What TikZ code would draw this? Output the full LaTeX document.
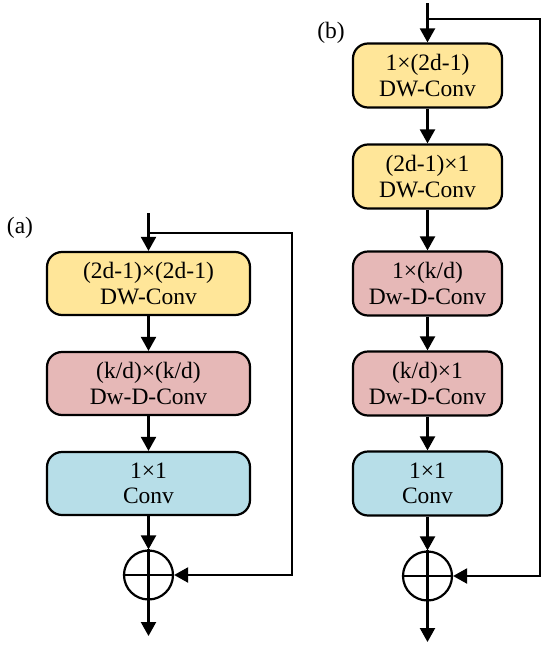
\documentclass[tikz,border=0pt]{standalone}
\usepackage{fontspec}
\setmainfont{Liberation Serif}
\usetikzlibrary{arrows.meta,calc}
\definecolor{cyel}{HTML}{FFE699}
\definecolor{cpink}{HTML}{E6B8B7}
\definecolor{cblue}{HTML}{B7DEE8}
\begin{document}
\begin{tikzpicture}[x=1pt,y=-1pt,
  blk/.style={draw=black, line width=2.2pt, rounded corners=15pt, align=center, inner sep=0pt,
    font=\fontsize{23.5pt}{25.5pt}\selectfont},
  wa/.style={blk, minimum width=203pt, minimum height=63pt},
  wb/.style={blk, minimum width=149pt, minimum height=64pt},
  sumc/.style={circle, draw=black, line width=2.2pt, minimum size=49pt, inner sep=0pt},
  ln/.style={line width=2.2pt},
  arr/.style={line width=2.2pt, -{Triangle[width=15pt,length=14pt]}},
  lab/.style={font=\fontsize{23.5pt}{25.5pt}\selectfont, inner sep=0pt}]
\useasboundingbox (0,0) rectangle (550,651);
% panel (a)
\node[lab] (la) at (20,228) {(a)};
\coordinate (ain) at (148.5,213);
\coordinate (abr) at (148.5,233);
\coordinate (ar) at (292,233);
\node[wa, fill=cyel] (a1) at (148.5,283.5) {(2d-1)×(2d-1)\\DW-Conv};
\node[wa, fill=cpink] (a2) at (148.5,383.5) {(k/d)×(k/d)\\Dw-D-Conv};
\node[wa, fill=cblue] (a3) at (148.5,483.5) {1×1\\Conv};
\node[sumc] (as) at (148.5,575) {};
\coordinate (aout) at (148.5,636);
\draw[arr] (ain) -- (a1.north);
\draw[arr] (a1.south) -- (a2.north);
\draw[arr] (a2.south) -- (a3.north);
\draw[arr] (a3.south) -- (as.north);
\draw[ln] (as.north) -- (as.south);
\draw[ln] (as.west) -- (as.east);
\draw[arr] (as.south) -- (aout);
\draw[arr] (abr) -- (ar) |- (as.east);
% panel (b)
\node[lab] (lb) at (331,33) {(b)};
\coordinate (bin) at (427.5,3);
\coordinate (bbr) at (427.5,19);
\coordinate (br) at (540,19);
\node[wb, fill=cyel] (b1) at (427.5,75.5) {1×(2d-1)\\DW-Conv};
\node[wb, fill=cyel] (b2) at (427.5,176.5) {(2d-1)×1\\DW-Conv};
\node[wb, fill=cpink] (b3) at (427.5,283.5) {1×(k/d)\\Dw-D-Conv};
\node[wb, fill=cpink] (b4) at (427.5,383.5) {(k/d)×1\\Dw-D-Conv};
\node[wb, fill=cblue] (b5) at (427.5,483.5) {1×1\\Conv};
\node[sumc] (bs) at (427.5,576) {};
\coordinate (bout) at (427.5,642);
\draw[arr] (bin) -- (b1.north);
\draw[arr] (b1.south) -- (b2.north);
\draw[arr] (b2.south) -- (b3.north);
\draw[arr] (b3.south) -- (b4.north);
\draw[arr] (b4.south) -- (b5.north);
\draw[arr] (b5.south) -- (bs.north);
\draw[ln] (bs.north) -- (bs.south);
\draw[ln] (bs.west) -- (bs.east);
\draw[arr] (bs.south) -- (bout);
\draw[arr] (bbr) -- (br) |- (bs.east);
\end{tikzpicture}
\end{document}
